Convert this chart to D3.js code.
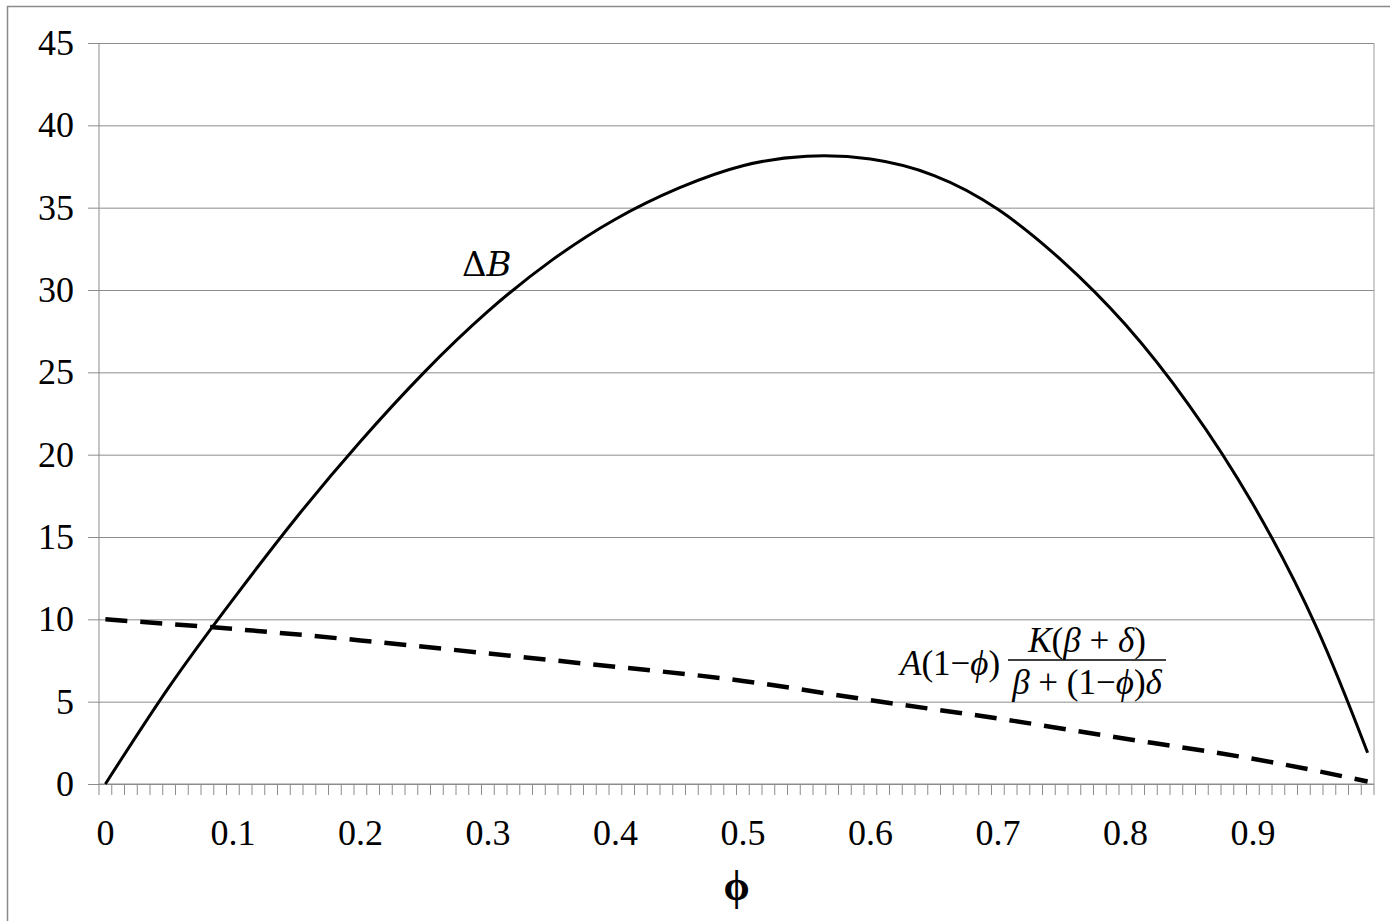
<!DOCTYPE html>
<html>
<head>
<meta charset="utf-8">
<script src="https://cdn.jsdelivr.net/npm/d3@7"></script>
<style>
  body { margin: 0; background: #fff; }
  text { font-family: "Liberation Serif", "DejaVu Serif", serif; fill: #000; }
</style>
</head>
<body>
<div id="chart"></div>
<script>
// x categories 0, 0.01 ... 0.99 (category axis, label every 10th)
const phiCategories = d3.range(100).map(i => (i / 100).toFixed(2));
const xTickLabels = ["0", "0.1", "0.2", "0.3", "0.4", "0.5", "0.6", "0.7", "0.8", "0.9"];
const yTicks = [0, 5, 10, 15, 20, 25, 30, 35, 40, 45];

// Delta B
const deltaBPhi = [0, 0.05, 0.10, 0.15, 0.20, 0.25, 0.30, 0.35, 0.40, 0.45, 0.50,
  0.55, 0.60, 0.65, 0.70, 0.75, 0.80, 0.85, 0.90, 0.95, 0.99];
const deltaB = [0, 5.9, 11.2, 16.2, 20.8, 25.0, 28.7, 31.8, 34.3, 36.2, 37.55,
  38.12, 37.95, 36.95, 34.9, 31.8, 27.9, 23.0, 17.0, 9.5, 1.9];

// dashed curve A(1-phi)K(beta+delta)/(beta+(1-phi)delta)
const costPhi = [0, 0.1, 0.2, 0.3, 0.4, 0.5, 0.6, 0.7, 0.8, 0.9, 0.99];
const cost = [10.0, 9.42, 8.72, 7.93, 7.12, 6.26, 5.09, 3.98, 2.75, 1.53, 0.15];

const margin = { top: 43, right: 16, bottom: 137, left: 99 };
const W = 1390, H = 921;
const width = W - margin.left - margin.right;
const height = H - margin.top - margin.bottom;

const svg = d3.select("#chart").append("svg")
  .attr("width", W)
  .attr("height", H);

// outer frame (cropped on right/bottom)
svg.append("rect")
  .attr("x", 7.5).attr("y", 6.5)
  .attr("width", 1500).attr("height", 1000)
  .attr("fill", "none").attr("stroke", "#8a8a8a").attr("stroke-width", 1.5);

const g = svg.append("g")
  .attr("transform", "translate(" + margin.left + "," + margin.top + ")");

const x = d3.scaleBand()
  .domain(phiCategories)
  .range([0, width]);

const y = d3.scaleLinear()
  .domain([0, 45])
  .range([height, 0]);

const px = v => x(v.toFixed(2)) + x.bandwidth() / 2;

// gridlines + y axis
const yAxis = g.append("g")
  .call(d3.axisLeft(y).tickValues(yTicks).tickSize(-width).tickSizeOuter(0).tickPadding(25));
yAxis.select(".domain").remove();
yAxis.selectAll(".tick line")
  .attr("x1", -11)
  .attr("stroke", "#8c8c8c");
yAxis.selectAll(".tick text")
  .style("font-size", "36px")
  .style("font-family", "'Liberation Serif', serif");

g.append("line")
  .attr("x1", 0).attr("x2", 0).attr("y1", 0).attr("y2", height)
  .attr("stroke", "#8c8c8c");
g.append("line")
  .attr("x1", width).attr("x2", width).attr("y1", 0).attr("y2", height)
  .attr("stroke", "#9c9c9c");

// x axis: tick marks on category boundaries
const xAxis = g.append("g")
  .attr("transform", "translate(0," + height + ")");
xAxis.append("line")
  .attr("x1", 0).attr("x2", width)
  .attr("stroke", "#8c8c8c");
xAxis.selectAll(".minor")
  .data(phiCategories.concat(["end"]))
  .enter().append("line")
  .attr("class", "minor")
  .attr("x1", (d, i) => i < phiCategories.length ? x(d) : width)
  .attr("x2", (d, i) => i < phiCategories.length ? x(d) : width)
  .attr("y1", 0).attr("y2", 11)
  .attr("stroke", "#8c8c8c");
xAxis.selectAll(".lbl")
  .data(xTickLabels)
  .enter().append("text")
  .attr("class", "lbl")
  .attr("x", d => px(+d))
  .attr("y", 61)
  .attr("text-anchor", "middle")
  .style("font-size", "36px")
  .text(d => d);

// axis title
svg.append("text")
  .attr("x", margin.left + width / 2)
  .attr("y", 900)
  .attr("text-anchor", "middle")
  .style("font-size", "42px")
  .style("font-weight", "bold")
  .text("ϕ");

// curves
const line = d3.line()
  .x(d => px(d[0]))
  .y(d => y(d[1]))
  .curve(d3.curveNatural);

g.append("path")
  .datum(d3.zip(deltaBPhi, deltaB))
  .attr("d", line)
  .attr("fill", "none")
  .attr("stroke", "#000")
  .attr("stroke-width", 3);

g.append("path")
  .datum(d3.zip(costPhi, cost))
  .attr("d", line)
  .attr("fill", "none")
  .attr("stroke", "#000")
  .attr("stroke-width", 4.5)
  .attr("stroke-dasharray", "22,13");

// labels
const lab = svg.append("text")
  .attr("x", 462).attr("y", 276)
  .style("font-size", "34px")
  .style("font-family", "'DejaVu Serif', serif");
lab.append("tspan").text("Δ");
lab.append("tspan").style("font-style", "italic").text("B");

const formula = svg.append("g").style("font-size", "35px");
const left = formula.append("text").attr("x", 900).attr("y", 675);
left.append("tspan").style("font-style", "italic").text("A");
left.append("tspan").text("(1−");
left.append("tspan").style("font-style", "italic").text("ϕ");
left.append("tspan").text(")");

const num = formula.append("text").attr("x", 1087).attr("y", 652).attr("text-anchor", "middle");
num.append("tspan").style("font-style", "italic").text("K");
num.append("tspan").text("(");
num.append("tspan").style("font-style", "italic").text("β");
num.append("tspan").text(" + ");
num.append("tspan").style("font-style", "italic").text("δ");
num.append("tspan").text(")");

formula.append("line")
  .attr("x1", 1008).attr("x2", 1166).attr("y1", 660).attr("y2", 660)
  .attr("stroke", "#000").attr("stroke-width", 1.5);

const den = formula.append("text").attr("x", 1087).attr("y", 694).attr("text-anchor", "middle");
den.append("tspan").style("font-style", "italic").text("β");
den.append("tspan").text(" + (1−");
den.append("tspan").style("font-style", "italic").text("ϕ");
den.append("tspan").text(")");
den.append("tspan").style("font-style", "italic").text("δ");
</script>
</body>
</html>
